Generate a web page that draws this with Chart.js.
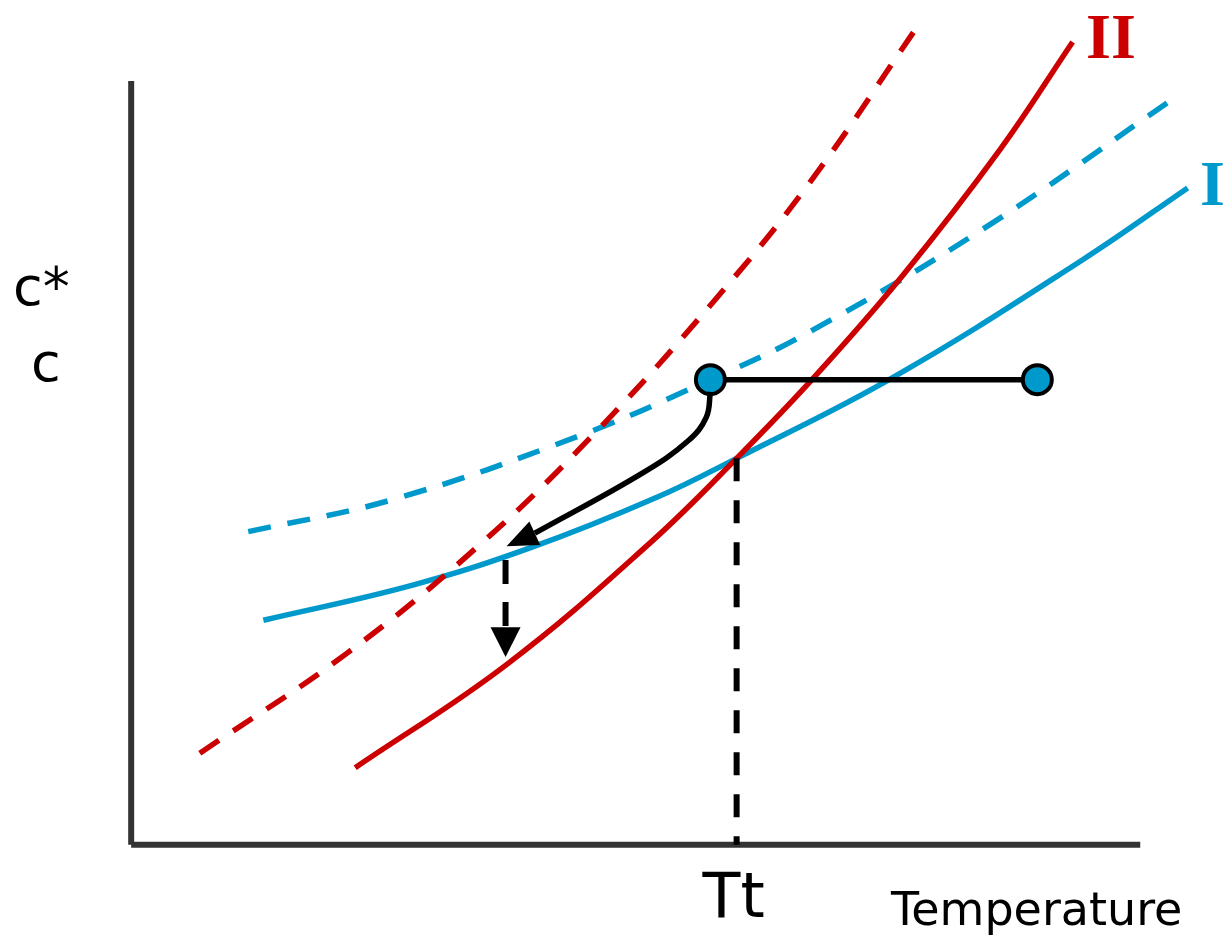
<!DOCTYPE html>
<html>
<head>
<meta charset="utf-8">
<script src="https://cdn.jsdelivr.net/npm/chart.js@4/dist/chart.umd.min.js"></script>
<style>
  html, body { margin: 0; padding: 0; background: #ffffff; }
  canvas { display: block; }
</style>
</head>
<body>
<canvas id="chart" width="1224" height="935"></canvas>
<script>
// Solubility diagram: two polymorphs (I and II) with their solubility (solid)
// and supersolubility (dashed) curves. Units are arbitrary: 0..100 along each axis.

// Polymorph I, solubility curve (solid)
const solIx = [13.1, 27.9, 39.8, 52.1, 60.0, 75.5, 94.3, 104.7];
const solIy = [29.4, 34.0, 39.0, 45.5, 50.6, 61.2, 76.6, 86.0];

// Polymorph I, supersolubility curve (dashed)
const supIx = [11.6, 25.9, 44.5, 57.4, 67.0, 84.4, 103.4];
const supIy = [41.0, 45.2, 53.6, 60.9, 67.0, 80.6, 97.8];

// Polymorph II, solubility curve (solid)
const solIIx = [22.2, 37.2, 51.4, 60.0, 67.6, 76.5, 86.1, 93.3];
const solIIy = [10.1, 23.6, 39.5, 50.6, 61.1, 74.6, 91.0, 105.1];

// Polymorph II, supersolubility curve (dashed)
const supIIx = [6.8, 21.4, 34.3, 45.8, 57.7, 67.3, 78.0];
const supIIy = [12.0, 25.1, 39.0, 53.7, 71.1, 86.8, 107.3];

// Cooling of a solution at constant concentration: start and end states
const coolX = [89.8, 57.4];
const coolY = [60.9, 60.9];

// Concentration drop after nucleation (curved arrow); last point is the arrow tip
const dropX = [57.4, 57.0, 55.2, 50.7, 40.0, 37.2];
const dropY = [59.3, 56.0, 52.9, 48.7, 40.8, 39.1];

// Transformation towards polymorph II (dashed arrow); last point is the arrow tip
const transX = [37.1, 37.1, 37.1];
const transY = [37.3, 28.5, 24.6];

// Transition temperature, where both solubility curves cross
const ttTemp = 60.0;
const ttConc = 50.6;

// Axis labels and curve names
const yLabels = ['c*', 'c'];
const xTickLabel = 'Tt';
const xTitle = 'Temperature';
const curveNames = ['II', 'I'];

const RED = '#cc0000';
const BLUE = '#0099cc';
const AXIS = '#333333';

const pts = (xs, ys) => xs.map((x, i) => ({ x: x, y: ys[i] }));

const dropPts = pts(dropX, dropY);
const transPts = pts(transX, transY);

// Arrow heads: the shaft ends at the last line point, the head ends at the tip
const arrows = [
  { shaft: 0, tip: dropPts[dropPts.length - 1], halfWidth: 13 },
  { shaft: 2, tip: transPts[transPts.length - 1], halfWidth: 15 }
];

const arrowHeads = {
  id: 'arrowHeads',
  afterDatasetsDraw(chart) {
    const ctx = chart.ctx;
    const xs = chart.scales.x, ys = chart.scales.y;
    ctx.save();
    ctx.fillStyle = '#000000';
    arrows.forEach(a => {
      const data = chart.data.datasets[a.shaft].data;
      const base = data[data.length - 1];
      const bx = xs.getPixelForValue(base.x), by = ys.getPixelForValue(base.y);
      const tx = xs.getPixelForValue(a.tip.x), ty = ys.getPixelForValue(a.tip.y);
      const len = Math.hypot(tx - bx, ty - by);
      const nx = -(ty - by) / len, ny = (tx - bx) / len;
      ctx.beginPath();
      ctx.moveTo(tx, ty);
      ctx.lineTo(bx + nx * a.halfWidth, by + ny * a.halfWidth);
      ctx.lineTo(bx - nx * a.halfWidth, by - ny * a.halfWidth);
      ctx.closePath();
      ctx.fill();
    });
    ctx.restore();
  }
};

const labels = {
  id: 'labels',
  afterDraw(chart) {
    const ctx = chart.ctx;
    const xs = chart.scales.x;
    ctx.save();
    ctx.textBaseline = 'alphabetic';
    ctx.fillStyle = '#000000';
    ctx.font = '54px "DejaVu Sans"';
    ctx.textAlign = 'left';
    ctx.fillText(yLabels[0], 13, 305);
    ctx.fillText(yLabels[1], 31, 381);

    ctx.font = '62px "DejaVu Sans"';
    ctx.textAlign = 'center';
    ctx.fillText(xTickLabel, xs.getPixelForValue(ttTemp) - 3, 917);

    ctx.font = '46px "DejaVu Sans"';
    ctx.textAlign = 'left';
    ctx.fillText(xTitle, 891, 925);

    ctx.font = 'bold 64px "Liberation Serif"';
    ctx.fillStyle = RED;
    ctx.fillText(curveNames[0], 1086, 58);
    ctx.fillStyle = BLUE;
    ctx.fillText(curveNames[1], 1200, 205);
    ctx.restore();
  }
};

const curve = (data, color, dashed) => ({
  data: data,
  borderColor: color,
  borderWidth: 5.5,
  borderDash: dashed ? [23, 17] : [],
  tension: 0.4,
  pointRadius: 0,
  fill: false
});

new Chart(document.getElementById('chart'), {
  type: 'line',
  data: {
    datasets: [
      { // concentration drop (drawn on top)
        data: dropPts.slice(0, -1),
        borderColor: '#000000', borderWidth: 5.5, tension: 0.4,
        pointRadius: 0, fill: false
      },
      { // cooling path with start/end states
        data: pts(coolX, coolY),
        borderColor: '#000000', borderWidth: 5.5,
        pointRadius: 14.5, pointBorderWidth: 4,
        pointBackgroundColor: BLUE, pointBorderColor: '#000000', fill: false
      },
      { // transformation arrow shaft
        data: transPts.slice(0, -1),
        borderColor: '#000000', borderWidth: 6, borderDash: [24, 18],
        pointRadius: 0, fill: false
      },
      { // transition temperature marker
        data: [{ x: ttTemp, y: ttConc }, { x: ttTemp, y: 0 }],
        borderColor: '#000000', borderWidth: 6, borderDash: [23, 19],
        pointRadius: 0, fill: false
      },
      curve(pts(solIIx, solIIy), RED, false),
      curve(pts(supIIx, supIIy), RED, true),
      curve(pts(solIx, solIy), BLUE, false),
      curve(pts(supIx, supIy), BLUE, true),
      { // concentration axis
        data: [{ x: 0, y: 0 }, { x: 0, y: 100 }],
        borderColor: AXIS, borderWidth: 6, pointRadius: 0, fill: false
      },
      { // temperature axis
        data: [{ x: 0, y: 0 }, { x: 100, y: 0 }],
        borderColor: AXIS, borderWidth: 6, pointRadius: 0, fill: false
      }
    ]
  },
  options: {
    responsive: false,
    animation: false,
    devicePixelRatio: 1,
    layout: { padding: 0, autoPadding: false },
    plugins: { legend: { display: false }, tooltip: { enabled: false } },
    events: [],
    scales: {
      x: { type: 'linear', min: -13, max: 108.3, display: false },
      y: { type: 'linear', min: -11.8, max: 110.6, display: false }
    }
  },
  plugins: [arrowHeads, labels]
});
</script>
</body>
</html>
